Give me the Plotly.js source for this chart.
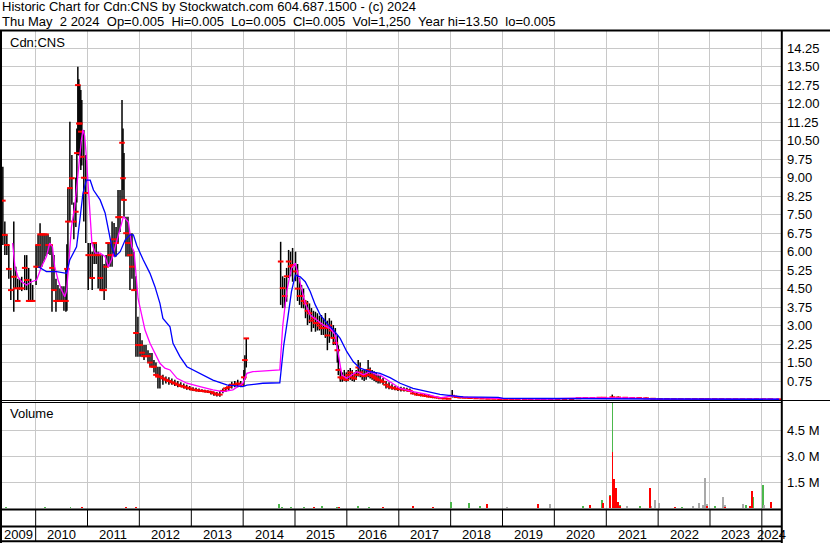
<!DOCTYPE html>
<html>
<head>
<meta charset="utf-8">
<script src="https://cdn.plot.ly/plotly-3.0.1.min.js"></script>
<style>
html,body{margin:0;padding:0;background:#fff;}
#chart{width:830px;height:543px;}
</style>
</head>
<body>
<div id="chart"></div>
<script>
// ---------------- DATA ----------------
const priceDates = [
'2009-05-15','2009-05-29','2009-06-12','2009-06-26','2009-07-10','2009-07-31','2009-08-14','2009-08-28','2009-09-11','2009-09-25','2009-10-16','2009-10-30','2009-11-13','2009-11-27','2009-12-11',
'2010-01-04','2010-01-18','2010-02-01','2010-02-15','2010-03-01','2010-03-15','2010-03-29','2010-04-12','2010-04-26','2010-05-10','2010-05-24','2010-06-07','2010-06-21','2010-07-05','2010-07-19','2010-08-02','2010-08-09','2010-08-16','2010-08-30','2010-09-13','2010-09-27','2010-10-11','2010-10-18','2010-10-25','2010-11-01','2010-11-08','2010-11-15','2010-11-22','2010-12-06','2010-12-20',
'2011-01-06','2011-01-20','2011-02-03','2011-02-17','2011-03-03','2011-03-17','2011-03-31','2011-04-14','2011-04-28','2011-05-12','2011-05-26','2011-06-09','2011-06-23','2011-07-07','2011-07-21','2011-08-04','2011-08-18','2011-09-01','2011-09-08','2011-09-15','2011-09-29','2011-10-13','2011-10-27','2011-11-10','2011-11-24','2011-12-08','2011-12-22',
'2012-01-06','2012-01-20','2012-02-03','2012-02-17','2012-03-02','2012-03-16','2012-03-30','2012-04-13','2012-04-27','2012-05-11','2012-05-25','2012-06-15','2012-07-06','2012-07-27','2012-08-17','2012-09-07','2012-09-28','2012-10-19','2012-11-09','2012-11-30','2012-12-21',
'2013-01-13','2013-02-03','2013-02-24','2013-03-17','2013-04-07','2013-04-28','2013-05-19','2013-06-09','2013-06-30','2013-07-21','2013-08-11','2013-09-01','2013-09-22','2013-10-13','2013-11-03','2013-11-24','2013-12-15',
'2014-01-06','2014-01-13','2014-01-23','2014-09-22','2014-10-06','2014-10-20','2014-11-03','2014-11-17','2014-12-01','2014-12-15',
'2015-01-05','2015-01-19','2015-02-02','2015-02-16','2015-03-02','2015-03-16','2015-03-30','2015-04-13','2015-04-27','2015-05-11','2015-05-25','2015-06-08','2015-06-22','2015-07-06','2015-07-20','2015-08-03','2015-08-17','2015-08-31','2015-09-14','2015-09-28','2015-10-12','2015-10-26','2015-11-02','2015-11-16','2015-11-30','2015-12-14','2015-12-28',
'2016-01-11','2016-01-25','2016-02-08','2016-02-22','2016-03-07','2016-03-21','2016-04-04','2016-04-18','2016-05-02','2016-05-16','2016-05-30','2016-06-13','2016-06-27','2016-07-11','2016-07-25','2016-08-08','2016-08-22','2016-09-12','2016-10-03','2016-10-24','2016-11-14','2016-12-05','2016-12-26',
'2017-01-16','2017-02-06','2017-02-27','2017-03-20','2017-04-10','2017-05-08','2017-06-05','2017-07-03','2017-07-31','2017-08-28','2017-09-25','2017-10-23','2017-11-20','2017-12-18',
'2018-01-12','2018-02-09','2018-03-09','2018-04-13','2018-05-18','2018-06-29','2018-08-10','2018-09-21','2018-11-02','2018-12-14',
'2019-01-25','2019-03-08','2019-04-19','2019-06-07','2019-07-19','2019-09-06','2019-10-18','2019-12-06',
'2020-01-24','2020-03-13','2020-05-01','2020-06-19','2020-08-07','2020-09-25','2020-11-13','2020-12-18',
'2021-02-12','2021-03-26','2021-05-14','2021-07-02','2021-08-20','2021-10-08','2021-11-26',
'2022-01-14','2022-03-04','2022-04-22','2022-06-10','2022-07-29','2022-09-16','2022-11-04','2022-12-16',
'2023-02-03','2023-03-24','2023-05-12','2023-06-30','2023-08-18','2023-10-06','2023-11-24',
'2024-01-12','2024-03-01','2024-05-02'
];
const priceHigh = [
9.45,7.22,6.70,6.27,5.25,7.22,5.39,4.90,4.90,4.98,5.86,5.86,5.34,4.90,4.65,
6.27,6.68,7.15,6.70,6.70,6.70,6.70,6.60,6.27,5.86,4.90,4.65,4.50,4.60,4.60,5.30,6.30,8.58,11.27,9.92,8.00,9.00,11.00,13.50,13.00,12.76,12.56,12.15,10.94,9.92,
6.35,6.35,6.00,6.35,6.35,6.00,5.86,5.86,5.50,5.86,6.35,6.35,7.22,7.16,7.00,8.50,8.50,12.15,11.00,10.00,7.42,7.42,6.75,6.75,6.00,5.00,3.36,
2.70,2.40,2.21,2.21,2.00,1.89,1.89,1.60,1.50,1.33,1.33,1.00,0.93,0.90,0.85,0.80,0.75,0.70,0.65,0.60,0.55,
0.50,0.48,0.45,0.42,0.40,0.38,0.36,0.33,0.30,0.35,0.45,0.50,0.60,0.72,0.75,0.80,0.75,
1.20,1.80,2.48,6.40,5.00,4.93,5.34,6.07,6.00,6.15,
6.00,5.50,4.93,4.65,4.50,4.04,4.00,3.90,3.71,3.60,3.56,3.50,3.40,3.43,3.30,3.51,3.20,3.30,3.20,3.02,2.90,2.62,2.20,1.28,1.10,1.20,1.10,
1.20,1.28,1.20,1.10,1.20,1.60,1.50,1.20,1.20,1.20,1.60,1.30,1.20,1.15,1.10,1.00,0.95,0.87,0.75,0.70,0.62,0.55,0.52,
0.52,0.50,0.48,0.45,0.35,0.28,0.25,0.22,0.20,0.15,0.12,0.10,0.08,0.06,
0.39,0.15,0.12,0.10,0.09,0.08,0.07,0.06,0.05,0.05,
0.04,0.04,0.03,0.03,0.03,0.03,0.025,0.025,
0.025,0.025,0.03,0.06,0.08,0.08,0.09,0.10,
0.20,0.12,0.10,0.09,0.08,0.08,0.05,
0.03,0.03,0.025,0.025,0.025,0.03,0.03,0.03,
0.025,0.025,0.02,0.02,0.02,0.02,0.03,
0.02,0.02,0.005
];
const priceLow = [
6.27,5.86,5.86,4.90,4.04,3.56,4.51,4.00,4.45,4.40,4.44,4.44,3.97,3.97,4.00,
4.65,5.34,5.34,5.40,5.60,5.80,5.90,5.86,3.56,4.44,3.56,3.97,3.97,4.00,3.60,3.56,3.60,5.34,7.22,7.90,6.50,7.00,8.00,9.92,9.90,9.92,9.31,9.50,7.22,6.35,
4.44,4.93,4.44,5.50,5.50,4.50,4.44,4.44,4.04,4.50,5.39,5.39,5.39,5.80,5.80,6.35,6.80,8.10,8.50,7.42,5.80,5.80,4.44,4.90,4.44,1.74,1.74,
1.74,1.74,1.60,1.74,1.50,1.33,1.33,1.10,0.93,0.45,0.45,0.60,0.65,0.60,0.60,0.55,0.50,0.50,0.45,0.40,0.38,
0.35,0.33,0.30,0.30,0.28,0.26,0.20,0.15,0.12,0.11,0.25,0.30,0.38,0.45,0.50,0.50,0.50,
0.55,0.80,1.30,3.84,3.71,3.71,3.97,4.93,5.00,4.78,
4.80,4.00,3.84,3.71,3.70,3.30,3.02,3.10,2.75,2.90,2.75,2.80,2.80,2.62,2.62,2.50,2.00,2.30,2.50,2.21,2.21,1.50,0.99,0.72,0.72,0.75,0.72,
0.75,0.80,0.75,0.72,0.80,0.93,0.90,0.80,0.75,0.80,0.90,0.85,0.80,0.75,0.70,0.65,0.65,0.60,0.45,0.42,0.40,0.38,0.35,
0.33,0.32,0.32,0.30,0.20,0.15,0.12,0.10,0.08,0.05,0.04,0.03,0.02,0.02,
0.08,0.06,0.05,0.05,0.04,0.03,0.02,0.02,0.02,0.01,
0.01,0.01,0.01,0.01,0.01,0.01,0.01,0.01,
0.01,0.005,0.01,0.02,0.04,0.04,0.05,0.05,
0.06,0.06,0.05,0.05,0.04,0.04,0.02,
0.01,0.01,0.01,0.01,0.01,0.01,0.01,0.01,
0.01,0.01,0.01,0.005,0.005,0.005,0.005,
0.005,0.005,0.005
];
const priceClose = [
8.07,6.68,6.27,5.30,4.44,4.98,4.51,4.00,4.51,4.51,5.34,4.85,4.00,4.00,4.00,
5.39,6.27,6.70,6.70,6.70,6.70,6.27,6.27,5.34,4.44,4.00,4.00,4.00,4.00,4.00,4.00,5.30,7.22,8.58,8.98,7.22,7.62,10.00,12.76,11.20,11.20,10.87,9.85,9.00,8.38,
5.86,5.86,4.93,6.35,5.86,5.86,4.93,4.44,4.44,5.39,6.35,5.86,5.86,6.50,6.35,7.40,7.40,10.42,8.98,8.10,6.75,6.35,5.86,5.39,4.44,2.70,2.21,
2.21,1.90,1.76,1.76,1.76,1.50,1.33,1.33,1.00,0.93,0.93,0.86,0.80,0.75,0.70,0.65,0.60,0.55,0.52,0.48,0.45,
0.40,0.38,0.36,0.35,0.33,0.32,0.30,0.25,0.20,0.20,0.35,0.45,0.50,0.60,0.60,0.65,0.60,
0.90,1.60,2.48,5.60,4.52,4.20,5.00,5.60,5.40,5.46,
5.20,4.50,4.20,4.20,4.00,3.90,3.60,3.50,3.20,3.30,3.10,3.10,3.00,2.90,2.90,2.90,2.60,3.00,2.80,2.50,2.30,2.00,1.20,0.90,0.85,0.90,0.80,
1.00,1.10,0.90,0.85,1.00,1.30,1.10,1.00,0.95,1.00,1.20,1.00,0.95,0.90,0.85,0.80,0.78,0.72,0.60,0.52,0.48,0.45,0.42,
0.42,0.40,0.38,0.35,0.25,0.20,0.18,0.15,0.12,0.10,0.08,0.05,0.04,0.03,
0.15,0.10,0.08,0.07,0.06,0.05,0.04,0.03,0.03,0.02,
0.02,0.02,0.02,0.015,0.015,0.015,0.015,0.015,
0.015,0.01,0.02,0.05,0.06,0.06,0.07,0.07,
0.09,0.08,0.07,0.06,0.06,0.05,0.03,
0.02,0.02,0.015,0.015,0.015,0.015,0.02,0.015,
0.015,0.015,0.01,0.01,0.01,0.01,0.01,
0.01,0.01,0.005
];

// short moving average (magenta)
const maShortDates = [
'2009-07-23','2009-08-08','2009-08-29','2009-09-24','2009-10-29','2009-12-03','2010-01-08','2010-02-11','2010-03-18','2010-04-10','2010-04-29','2010-05-15','2010-06-08','2010-07-02','2010-07-25','2010-08-06','2010-08-17','2010-08-29','2010-09-10','2010-10-03','2010-10-26','2010-11-19','2010-11-30','2010-12-12','2010-12-24',
'2011-01-08','2011-01-20','2011-02-01','2011-02-24','2011-03-31','2011-05-05','2011-05-28','2011-06-21','2011-07-14','2011-08-19','2011-09-11','2011-10-16','2011-11-09','2011-11-25','2011-12-09','2011-12-23',
'2012-01-20','2012-02-10','2012-03-16','2012-04-20','2012-05-25','2012-06-29','2012-08-04','2012-09-22','2012-12-01',
'2013-03-03','2013-06-02','2013-08-12','2013-10-21','2013-12-30',
'2014-01-27','2014-03-10','2014-06-02','2014-09-16','2014-10-07','2014-10-21','2014-11-04','2014-12-07',
'2015-01-03','2015-01-26','2015-02-19','2015-03-14','2015-04-18','2015-06-04','2015-07-21','2015-09-06','2015-10-11','2015-11-03','2015-11-27',
'2016-01-01','2016-03-11','2016-04-27','2016-06-13','2016-07-30','2016-08-22','2016-10-31',
'2017-01-10','2017-04-11','2017-07-19','2017-10-18',
'2018-01-13','2018-03-31','2018-07-07','2019-01-06','2019-11-11','2020-07-20','2021-06-16','2021-12-23','2024-05-02'
];
const maShort = [
6.35,5.39,4.98,4.78,4.65,4.78,4.85,5.39,5.80,6.35,6.20,5.39,4.85,4.44,4.17,4.40,5.13,5.94,7.01,7.82,9.31,10.53,10.94,10.70,9.85,
8.38,7.28,6.35,5.94,5.94,5.80,5.39,5.70,6.20,6.88,7.42,7.20,6.20,6.00,4.90,4.10,
3.36,2.82,2.28,1.87,1.47,1.27,1.20,0.86,0.66,
0.52,0.39,0.32,0.39,0.66,
1.06,1.13,1.16,1.20,3.00,3.80,4.40,5.32,
5.53,5.00,4.38,3.90,3.43,3.23,3.02,2.89,2.62,1.81,0.99,
0.86,1.13,1.00,1.13,1.00,0.99,0.72,
0.45,0.32,0.21,0.07,
0.15,0.10,0.07,0.04,0.02,0.07,0.07,0.02,0.01
];

// long moving average (blue)
const maLongDates = [
'2010-01-19','2010-03-18','2010-05-28','2010-08-06','2010-08-29','2010-09-22','2010-10-16','2010-11-08','2010-11-30','2010-12-24',
'2011-01-20','2011-02-12','2011-03-31','2011-05-05','2011-05-28','2011-06-21','2011-07-14','2011-08-19','2011-09-23','2011-10-28','2011-11-20','2011-12-14',
'2012-01-29','2012-03-16','2012-04-20','2012-05-25','2012-06-15','2012-08-04','2012-08-25','2012-10-13','2012-12-01',
'2013-03-03','2013-06-02','2013-09-08','2013-12-30',
'2014-01-27','2014-05-19','2014-09-16','2014-10-14','2014-11-11','2014-12-07',
'2015-01-03','2015-02-07','2015-03-14','2015-04-18','2015-05-24','2015-06-28','2015-08-14','2015-09-29','2015-11-15',
'2016-01-01','2016-02-16','2016-04-03','2016-06-13','2016-08-22','2016-10-31',
'2017-01-10','2017-04-11','2017-07-19','2017-10-18',
'2018-01-20','2018-03-31','2018-12-02','2019-01-06','2019-11-11','2020-07-20','2021-11-04','2021-12-23','2024-05-02'
];
const maLong = [
5.39,5.19,5.19,5.12,5.66,5.90,6.20,7.28,8.37,8.90,
8.90,8.50,8.10,7.57,6.88,6.20,5.80,6.00,6.47,6.68,6.68,6.25,
5.66,5.12,4.58,3.90,3.29,2.95,2.28,1.74,1.33,
1.06,0.79,0.59,0.52,
0.58,0.66,0.68,2.21,3.29,4.38,
5.05,4.98,4.78,4.38,3.84,3.43,3.09,2.82,2.48,
1.94,1.53,1.27,1.13,1.06,0.89,
0.66,0.45,0.32,0.21,
0.15,0.11,0.09,0.05,0.04,0.04,0.05,0.02,0.01
];

// volume (shares) by day type
const upVolDates = ['2009-06-05','2009-10-02','2010-03-05','2010-09-03','2011-06-10','2012-02-03','2012-09-14','2013-05-10','2014-09-12','2014-10-03','2014-12-05','2015-03-06','2015-07-10','2015-10-23','2016-03-18','2016-06-03','2018-01-04','2018-05-11','2018-07-27','2020-07-20','2020-12-01','2021-01-27','2021-02-14','2021-04-07','2021-08-25','2022-06-15','2023-02-07','2023-09-13','2023-10-31','2024-01-10'];
const upVol = [50000,40000,50000,60000,40000,40000,30000,30000,250000,80000,60000,50000,120000,60000,140000,60000,380000,320000,120000,150000,480000,770000,6300000,200000,150000,60000,150000,200000,650000,1350000];
const downVolDates = ['2009-07-17','2009-12-04','2010-05-21','2010-11-26','2011-09-30','2011-12-09','2012-05-18','2013-02-01','2015-05-15','2015-11-06','2016-09-09','2017-04-11','2017-08-28','2018-09-15','2019-09-08','2020-09-08','2020-12-08','2021-01-27','2021-02-14','2021-02-27','2021-03-13','2021-03-23','2021-04-07','2021-11-04','2022-04-27','2022-12-08','2023-04-18','2023-10-10','2023-10-24','2024-03-06'];
const downVol = [40000,40000,40000,60000,50000,60000,40000,30000,60000,80000,50000,130000,50000,270000,270000,200000,300000,700000,3230000,1670000,1190000,350000,150000,1150000,100000,120000,100000,120000,1000000,350000];
const flatVolDates = ['2019-02-02','2019-12-01','2021-05-25','2021-11-11','2021-12-08','2022-01-06','2022-09-01','2022-10-13','2022-11-10','2022-11-24','2022-12-08','2023-04-03','2023-04-18','2023-08-22','2024-01-17'];
const flatVol = [100000,220000,120000,120000,480000,300000,120000,300000,200000,1770000,250000,670000,200000,250000,200000];

// axis ticks / labels
const priceTicks = [0.75,1.5,2.25,3.0,3.75,4.5,5.25,6.0,6.75,7.5,8.25,9.0,9.75,10.5,11.25,12.0,12.75,13.5,14.25];
const volTicks = [1500000,3000000,4500000];
const volTickText = ['1.5 M','3.0 M','4.5 M'];
const years = [2009,2010,2011,2012,2013,2014,2015,2016,2017,2018,2019,2020,2021,2022,2023,2024];

const titleLine1 = 'Historic Chart for Cdn:CNS by Stockwatch.com 604.687.1500 - (c) 2024';
const titleLine2 = 'Thu May  2 2024  Op=0.005  Hi=0.005  Lo=0.005  Cl=0.005  Vol=1,250  Year hi=13.50  lo=0.005';

// ---------------- BUILD ----------------
const FONT = 'Arial, "Liberation Sans", sans-serif';
const GRID = '#c8c8c8';
const rangeStart = '2009-05-09', rangeEnd = '2024-05-15';

// high-low bars as one line trace with gaps
const barX = [], barY = [];
priceDates.forEach((d, i) => { barX.push(d, d, null); barY.push(priceLow[i], priceHigh[i], null); });

const yearStarts = years.slice(1).map(y => y + '-01-01');

// layout geometry helpers (pixels -> paper)
const ML = 2, MR = 49, MT = 31, MB = 33, W = 830, H = 543;
const PW = W - ML - MR, PH = H - MT - MB;
const px = x => (x - ML) / PW;
const py = y => (H - MB - y) / PH;

const DAY = 86400000;
const traces = [
  {type:'scatter', mode:'lines', x:barX, y:barY, xaxis:'x', yaxis:'y',
   line:{color:'#000000', width:1.5}, connectgaps:false, hoverinfo:'skip'},
  {type:'scatter', mode:'markers', x:priceDates, y:priceClose, xaxis:'x', yaxis:'y',
   marker:{symbol:'line-ew', size:4, line:{color:'#ff0000', width:2}, color:'#ff0000'}, hoverinfo:'skip'},
  {type:'scatter', mode:'lines', x:maShortDates, y:maShort, xaxis:'x', yaxis:'y',
   line:{color:'#ff00ff', width:1.3}, hoverinfo:'skip'},
  {type:'scatter', mode:'lines', x:maLongDates, y:maLong, xaxis:'x', yaxis:'y',
   line:{color:'#0000ff', width:1.3}, hoverinfo:'skip'},
  {type:'bar', x:upVolDates, y:upVol, xaxis:'x2', yaxis:'y2', width:13*DAY,
   marker:{color:'#4cb84c', line:{width:0}}, hoverinfo:'skip'},
  {type:'bar', x:flatVolDates, y:flatVol, xaxis:'x2', yaxis:'y2', width:13*DAY,
   marker:{color:'#a9a9a9', line:{width:0}}, hoverinfo:'skip'},
  {type:'bar', x:downVolDates, y:downVol, xaxis:'x2', yaxis:'y2', width:13*DAY,
   marker:{color:'#ff0000', line:{width:0}}, hoverinfo:'skip'}
];

const shapes = [];
const line = (x0,y0,x1,y1,w,xref) => shapes.push({type:'line', xref:xref||'paper', yref:'paper', x0:x0, y0:y0, x1:x1, y1:y1, line:{color:'#000000', width:w}, layer:'above'});
line(px(0), py(30.5), px(830), py(30.5), 2);          // header rule
line(px(1), py(30), px(1), py(543), 2);               // left border
line(px(781.8), py(30), px(781.8), py(543), 2);       // right border
line(px(0), py(400.5), px(830), py(400.5), 1);        // price/volume double rule
line(px(0), py(402.5), px(781), py(402.5), 1);
line(px(0), py(509.5), px(781), py(509.5), 2);        // volume bottom
line(px(0), py(526.5), px(781), py(526.5), 2);        // cell row bottom
line(px(0), py(541.3), px(781), py(541.3), 2);        // bottom rule
yearStarts.forEach(d => {
  shapes.push({type:'line', xref:'x', yref:'paper', x0:d, x1:d, y0:py(510), y1:py(526),
               line:{color:'#000000', width:1}, layer:'above'});
});
[yearStarts[0], yearStarts[yearStarts.length-1]].forEach(d => {
  shapes.push({type:'line', xref:'x', yref:'paper', x0:d, x1:d, y0:py(527), y1:py(541),
               line:{color:'#000000', width:1}, layer:'above'});
});

const annotations = [];
const txt = (s) => s.replace(/ /g, '\u00a0');
annotations.push({xref:'paper', yref:'paper', x:px(1), y:py(7), xanchor:'left', yanchor:'middle', borderpad:0,
  text:txt(titleLine1), showarrow:false, font:{family:FONT, size:13, color:'#000'}});
annotations.push({xref:'paper', yref:'paper', x:px(1), y:py(21.5), xanchor:'left', yanchor:'middle', borderpad:0,
  text:txt(titleLine2), showarrow:false, font:{family:FONT, size:13, color:'#000'}});
annotations.push({xref:'paper', yref:'paper', x:px(8), y:py(42.5), xanchor:'left', yanchor:'middle',
  text:'Cdn:CNS', showarrow:false, font:{family:FONT, size:13, color:'#000'}});
annotations.push({xref:'paper', yref:'paper', x:px(8), y:py(413), xanchor:'left', yanchor:'middle',
  text:'Volume', showarrow:false, font:{family:FONT, size:13, color:'#000'}});
const t0 = Date.parse(rangeStart), t1 = Date.parse(rangeEnd);
years.forEach(y => {
  const s = Math.max(Date.parse(y + '-01-01'), t0);
  const e = Math.min(Date.parse((y + 1) + '-01-01'), t1);
  const mid = new Date((s + e) / 2).toISOString().replace('T', ' ').slice(0, 19);
  annotations.push({xref:'x', yref:'paper', x:mid, y:py(534.5), xanchor:'center', yanchor:'middle',
    text:String(y), showarrow:false, font:{family:FONT, size:13, color:'#000'}});
});

const xCommon = {type:'date', range:[rangeStart, rangeEnd], tickmode:'array', tickvals:yearStarts,
  showticklabels:false, ticks:'', showgrid:true, gridcolor:GRID, gridwidth:1, zeroline:false, showline:false, fixedrange:true};

const layout = {
  width:W, height:H,
  margin:{l:ML, r:MR, t:MT, b:MB, pad:0},
  paper_bgcolor:'#ffffff', plot_bgcolor:'#ffffff',
  showlegend:false, hovermode:false, barmode:'overlay', bargap:0,
  font:{family:FONT, size:13, color:'#000000'},
  xaxis: Object.assign({}, xCommon, {domain:[0,1], anchor:'y'}),
  xaxis2: Object.assign({}, xCommon, {domain:[0,1], anchor:'y2', matches:'x'}),
  yaxis:{domain:[py(400), 1], anchor:'x', side:'right', range:[-0.02, 14.955],
    tickmode:'array', tickvals:priceTicks, ticktext:priceTicks.map(v => v.toFixed(2)),
    showgrid:true, gridcolor:GRID, gridwidth:1, zeroline:false, showline:false, ticks:'',
    ticklabelstandoff:5, tickfont:{family:FONT, size:13, color:'#000'}, fixedrange:true},
  yaxis2:{domain:[0, py(402)], anchor:'x2', side:'right', range:[-98000, 6130000],
    tickmode:'array', tickvals:volTicks, ticktext:volTickText,
    showgrid:true, gridcolor:GRID, gridwidth:1, zeroline:false, showline:false, ticks:'',
    ticklabelstandoff:5, tickfont:{family:FONT, size:13, color:'#000'}, fixedrange:true},
  shapes:shapes,
  annotations:annotations
};

Plotly.newPlot('chart', traces, layout, {displayModeBar:false, staticPlot:true});
</script>
</body>
</html>
